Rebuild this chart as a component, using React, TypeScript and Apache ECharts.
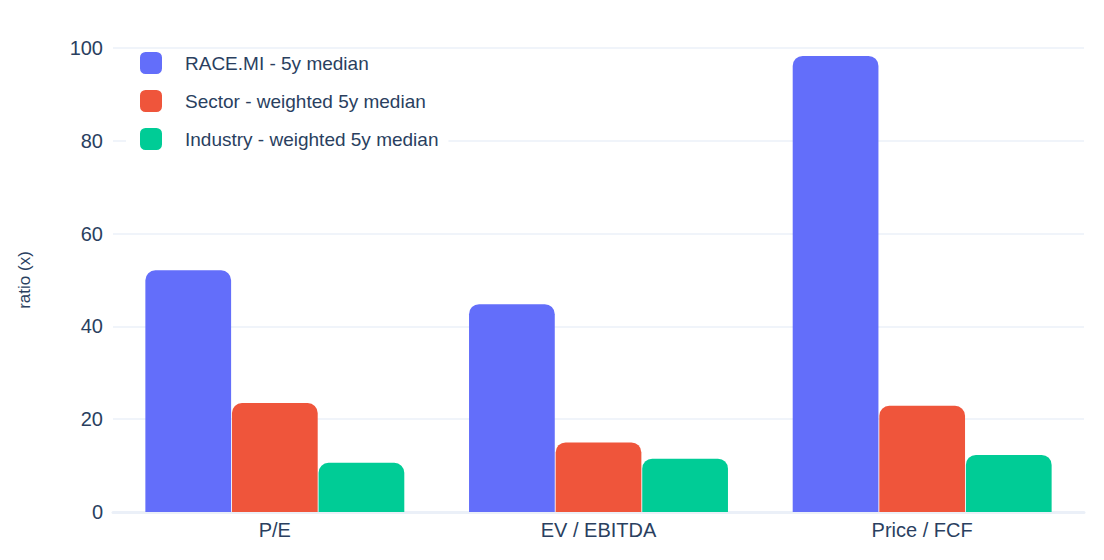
import { useEffect, useRef } from "react";
import * as echarts from "echarts";

const categories = ["P/E", "EV / EBITDA", "Price / FCF"];
const raceValues = [52.1, 44.8, 98.3];
const sectorValues = [23.5, 15.0, 22.9];
const industryValues = [10.6, 11.5, 12.3];
const seriesNames = ["RACE.MI - 5y median", "Sector - weighted 5y median", "Industry - weighted 5y median"];
const COLORS = ["#636efa", "#ef553b", "#00cc96"];
const TEXT = "#2a3f5f";
const GRID = "#ebf0f8";

export default function App() {
  const ref = useRef<HTMLDivElement>(null);

  useEffect(() => {
    if (!ref.current) return;
    const chart = echarts.init(ref.current, undefined, { renderer: "svg" });
    const data = [raceValues, sectorValues, industryValues];
    chart.setOption({
      animation: false,
      textStyle: { fontFamily: "Liberation Sans, Arial, sans-serif" },
      grid: { left: 94, right: 12, top: 40, bottom: 40 },
      legend: {
        left: 118,
        top: 42,
        orient: "vertical",
        itemWidth: 22,
        itemHeight: 22,
        itemGap: 16,
        backgroundColor: "#ffffff",
        padding: [2, 10, 4, 14],
        icon: "roundRect",
        textStyle: { color: TEXT, fontSize: 19, padding: [0, 0, 0, 18] },
        data: seriesNames,
      },
      xAxis: {
        type: "category",
        data: categories,
        axisTick: { show: false },
        axisLine: { lineStyle: { color: GRID, width: 3 } },
        axisLabel: { color: TEXT, fontSize: 20, margin: 8 },
      },
      yAxis: {
        type: "value",
        min: 0,
        max: 100,
        interval: 20,
        name: "ratio (x)",
        nameLocation: "middle",
        nameGap: 80,
        nameTextStyle: { color: TEXT, fontSize: 17 },
        axisLabel: { color: TEXT, fontSize: 20, margin: 10 },
        splitLine: { lineStyle: { color: GRID, width: 1.5 } },
      },
      series: seriesNames.map((name, i) => ({
        type: "bar",
        name,
        data: data[i],
        barGap: "1%",
        barCategoryGap: "20%",
        itemStyle: { color: COLORS[i], borderRadius: [10, 10, 0, 0] },
      })),
    });
    return () => chart.dispose();
  }, []);

  return <div ref={ref} style={{ width: 1088, height: 544 }} />;
}
